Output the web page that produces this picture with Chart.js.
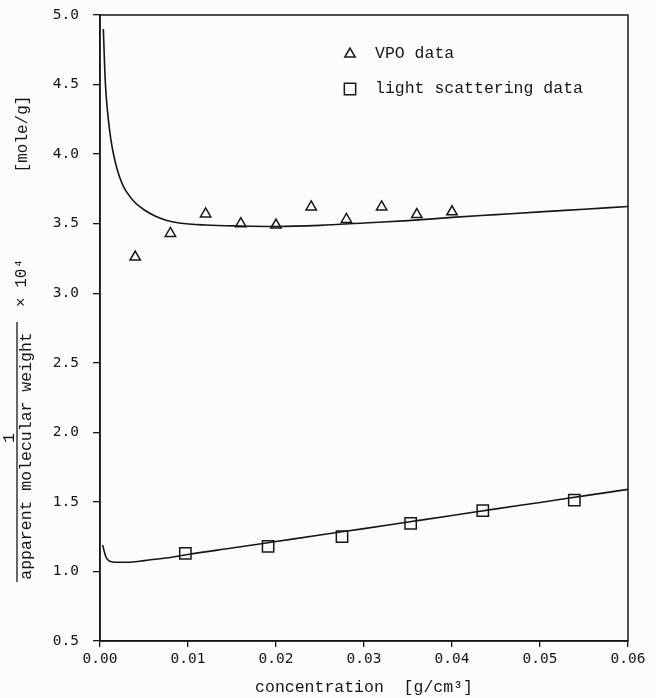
<!DOCTYPE html>
<html>
<head>
<meta charset="utf-8">
<title>1 / apparent molecular weight vs concentration</title>
<script src="https://cdn.jsdelivr.net/npm/chart.js@4.4.1/dist/chart.umd.min.js"></script>
<style>
    html, body { margin: 0; padding: 0; background: #fcfcfa; }
    #wrap { width: 656px; height: 698px; }
</style>
</head>
<body>
<div id="wrap"><canvas id="myChart" width="656" height="698"></canvas></div>
<script>
// measured points
const vpoConc = [0.004, 0.008, 0.012, 0.016, 0.020, 0.024, 0.028, 0.032, 0.036, 0.040];
const vpoValues = [3.26, 3.43, 3.57, 3.50, 3.49, 3.62, 3.53, 3.62, 3.565, 3.585];

const lsConc = [0.0097, 0.0191, 0.0275, 0.0353, 0.0435, 0.0539];
const lsValues = [1.13, 1.18, 1.25, 1.345, 1.437, 1.513];

// fitted curves
const vpoCurveConc = [0.00038, 0.0005, 0.00057, 0.0007, 0.00095, 0.0012, 0.0015, 0.002, 0.0025, 0.003, 0.004, 0.005, 0.00625, 0.0075, 0.009, 0.012, 0.016, 0.020, 0.025, 0.030, 0.035, 0.040, 0.045, 0.050, 0.055, 0.060];
const vpoCurveValues = [4.90, 4.68, 4.56, 4.42, 4.25, 4.12, 4.01, 3.88, 3.79, 3.73, 3.65, 3.60, 3.555, 3.525, 3.505, 3.49, 3.483, 3.48, 3.488, 3.505, 3.522, 3.545, 3.565, 3.585, 3.604, 3.623];

const lsCurveConc = [0.0003, 0.0005, 0.0007, 0.001, 0.0013, 0.002, 0.003, 0.004, 0.005, 0.006, 0.008, 0.010, 0.015, 0.020, 0.025, 0.030, 0.035, 0.040, 0.045, 0.050, 0.055, 0.060];
const lsCurveValues = [1.19, 1.14, 1.10, 1.078, 1.07, 1.066, 1.066, 1.07, 1.078, 1.086, 1.10, 1.122, 1.168, 1.215, 1.262, 1.308, 1.355, 1.402, 1.45, 1.496, 1.543, 1.59];

const xTicks = [0.00, 0.01, 0.02, 0.03, 0.04, 0.05, 0.06];
const yTicks = [0.5, 1.0, 1.5, 2.0, 2.5, 3.0, 3.5, 4.0, 4.5, 5.0];

const ink = '#161616';
const labelFont = '"Liberation Mono", "DejaVu Sans Mono", monospace';
const tickFont = '"DejaVu Sans Mono", monospace';

function toPoints(xs, ys) {
    return xs.map((x, i) => ({ x: x, y: ys[i] }));
}

// box round the plot + the inside legend
let framePlugin = {
    id: 'frame',
    afterDraw(chart) {
        let ctx = chart.ctx;
        let a = chart.chartArea;
        ctx.save();
        ctx.strokeStyle = ink;
        ctx.lineWidth = 1.5;
        ctx.strokeRect(a.left, a.top, a.right - a.left, a.bottom - a.top);

        // legend
        let items = [chart.data.datasets[2], chart.data.datasets[3]];
        let y = 54;
        ctx.font = '16.5px ' + labelFont;
        ctx.textBaseline = 'middle';
        ctx.textAlign = 'left';
        items.forEach(ds => {
            ctx.strokeStyle = ink;
            ctx.fillStyle = 'rgba(0,0,0,0)';
            ctx.lineWidth = 1.5;
            Chart.helpers.drawPoint(ctx, {
                pointStyle: ds.pointStyle,
                radius: ds.pointRadius,
                rotation: 0,
                borderWidth: 1.5
            }, 350, y);
            ctx.fillStyle = ink;
            ctx.fillText(ds.label, 375, y);
            y += 35;
        });
        ctx.restore();
    }
};

// y title is a fraction: 1 over "apparent molecular weight", then x 10^4 [mole/g]
let yTitlePlugin = {
    id: 'yTitle',
    afterDraw(chart) {
        let ctx = chart.ctx;
        ctx.save();
        ctx.fillStyle = ink;
        ctx.strokeStyle = ink;
        ctx.lineWidth = 1.3;
        ctx.beginPath();
        ctx.moveTo(17, 322);
        ctx.lineTo(17, 582);
        ctx.stroke();

        let put = function (text, x, y, font) {
            ctx.save();
            ctx.translate(x, y);
            ctx.rotate(-Math.PI / 2);
            ctx.font = font;
            ctx.textAlign = 'center';
            ctx.textBaseline = 'alphabetic';
            ctx.fillText(text, 0, 0);
            ctx.restore();
        };
        put('1', 14, 438, '16.5px ' + labelFont);
        put('apparent molecular weight', 31, 456, '16.5px ' + labelFont);
        put('\u00d7 10\u2074', 26, 283, '16px ' + labelFont);
        put('[mole/g]', 27, 134, '16px ' + labelFont);
        ctx.restore();
    }
};

let ctx = document.getElementById('myChart');

let myChart = new Chart(ctx, {
    type: 'scatter',
    data: {
        datasets: [{
            label: 'VPO fit',
            data: toPoints(vpoCurveConc, vpoCurveValues),
            showLine: true,
            borderColor: ink,
            borderWidth: 1.6,
            pointRadius: 0,
            cubicInterpolationMode: 'monotone'
        }, {
            label: 'light scattering fit',
            data: toPoints(lsCurveConc, lsCurveValues),
            showLine: true,
            borderColor: ink,
            borderWidth: 1.6,
            pointRadius: 0,
            cubicInterpolationMode: 'monotone'
        }, {
            label: 'VPO data',
            data: toPoints(vpoConc, vpoValues),
            pointStyle: 'triangle',
            pointRadius: 6,
            pointBorderWidth: 1.5,
            pointBorderColor: ink,
            pointBackgroundColor: 'rgba(0,0,0,0)'
        }, {
            label: 'light scattering data',
            data: toPoints(lsConc, lsValues),
            pointStyle: 'rect',
            pointRadius: 8,
            pointBorderWidth: 1.5,
            pointBorderColor: ink,
            pointBackgroundColor: 'rgba(0,0,0,0)'
        }]
    },
    options: {
        responsive: false,
        animation: false,
        layout: { padding: { top: 15, right: 28, left: 0, bottom: 0 } },
        plugins: {
            legend: { display: false },
            tooltip: { enabled: false }
        },
        scales: {
            x: {
                type: 'linear',
                min: 0,
                max: 0.06,
                afterFit: function (scale) { scale.height = 57; },
                afterBuildTicks: function (scale) {
                    scale.ticks = xTicks.map(v => ({ value: v }));
                },
                ticks: {
                    color: ink,
                    padding: 4,
                    font: { family: tickFont, size: 14.5 },
                    callback: v => v.toFixed(2)
                },
                grid: { drawOnChartArea: false, color: ink, tickLength: 6, lineWidth: 1.3 },
                border: { color: ink, width: 1.5 },
                title: {
                    display: true,
                    text: 'concentration  [g/cm\u00b3]',
                    color: ink,
                    font: { family: labelFont, size: 16.5 },
                    padding: { top: 2, bottom: 0 }
                }
            },
            y: {
                type: 'linear',
                min: 0.5,
                max: 5.0,
                afterFit: function (scale) {
                    scale.width = 100;
                    scale.paddingTop = 0;
                    scale.paddingBottom = 0;
                },
                afterBuildTicks: function (scale) {
                    scale.ticks = yTicks.map(v => ({ value: v }));
                },
                ticks: {
                    color: ink,
                    padding: 14,
                    font: { family: tickFont, size: 14.5 },
                    callback: v => v.toFixed(1)
                },
                grid: { drawOnChartArea: false, color: ink, tickLength: 7, lineWidth: 1.3 },
                border: { color: ink, width: 1.5 }
            }
        }
    },
    plugins: [framePlugin, yTitlePlugin]
});
</script>
</body>
</html>
